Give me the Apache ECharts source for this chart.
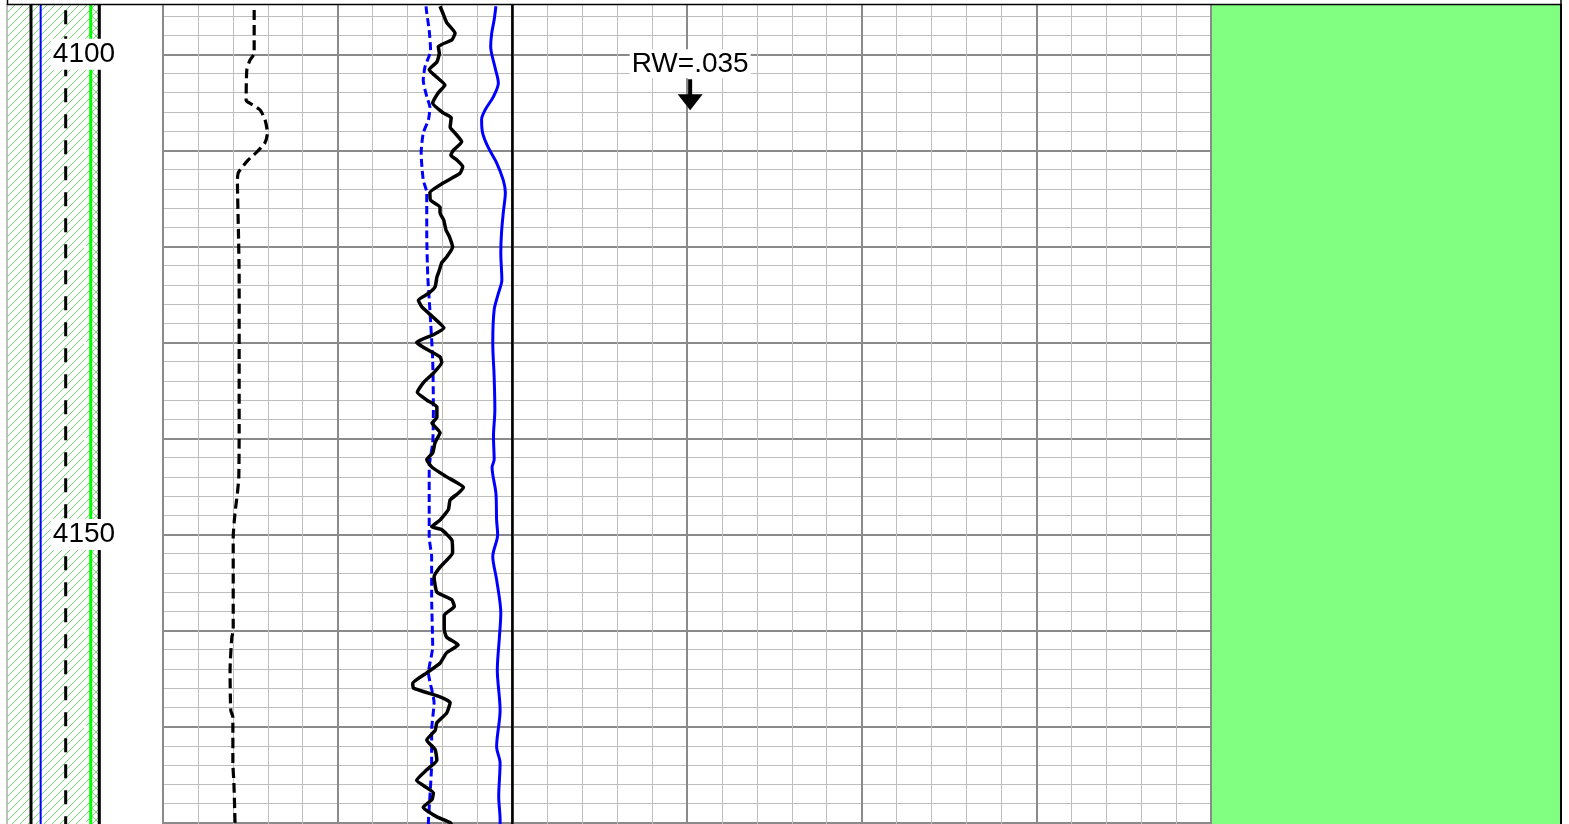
<!DOCTYPE html>
<html><head><meta charset="utf-8">
<script src="https://cdn.jsdelivr.net/npm/echarts@6/dist/echarts.min.js"></script>
<style>html,body{margin:0;padding:0;background:#fff;overflow:hidden;width:1569px;height:824px}#c{position:absolute;left:0;top:-60px;width:1569px;height:1000px}</style>
</head><body><div id="c"></div>
<script>
// ---------------- DATA ----------------
// Black dashed curve (track 1)
const depthA = [4095.4, 4099.9, 4100.6, 4101.6, 4104.8, 4105.1, 4105.8, 4106.8, 4108.2, 4109.2, 4110.2, 4111.0, 4112.3, 4113.1, 4118.6, 4123.2, 4131.8, 4138.8, 4144.0, 4145.7, 4147.8, 4150.3, 4160.0, 4160.7, 4164.1, 4168.3, 4169.0, 4173.8, 4175.9, 4179.7, 4181.0];
const curveA = [26.1, 26.1, 24.9, 24.0, 23.8, 24.9, 27.8, 29.2, 29.9, 29.2, 26.8, 24.4, 21.6, 21.3, 21.6, 21.8, 21.8, 21.8, 21.7, 21.3, 20.6, 20.1, 20.1, 19.7, 19.2, 19.4, 20.0, 20.0, 20.3, 20.6, 20.7];
// Blue dashed curve
const depthB = [4095.0, 4095.7, 4097.5, 4099.6, 4101.3, 4102.7, 4104.4, 4105.5, 4106.8, 4108.2, 4110.3, 4113.1, 4114.4, 4118.6, 4123.2, 4126.6, 4131.8, 4137.0, 4140.5, 4143.0, 4147.4, 4150.3, 4152.3, 4156.5, 4161.7, 4164.4, 4167.5, 4170.4, 4173.8, 4177.3, 4179.7, 4181.0];
const curveB = [75.3, 75.5, 76.2, 76.6, 75.0, 74.5, 75.5, 76.4, 76.0, 74.5, 73.9, 74.5, 75.5, 75.5, 75.8, 76.4, 77.2, 77.4, 77.2, 76.2, 76.2, 76.2, 76.9, 76.9, 77.2, 76.0, 77.6, 76.9, 76.9, 76.4, 76.0, 75.9];
// Black solid curve
const depthC = [4095.0, 4095.7, 4096.7, 4097.8, 4098.5, 4099.2, 4099.9, 4100.8, 4101.6, 4102.4, 4103.2, 4104.0, 4105.1, 4106.1, 4106.6, 4107.6, 4108.2, 4109.1, 4110.0, 4110.5, 4111.0, 4111.7, 4112.4, 4113.4, 4114.4, 4115.2, 4115.9, 4116.5, 4117.3, 4118.3, 4119.0, 4120.1, 4121.1, 4121.7, 4122.5, 4123.2, 4124.2, 4124.9, 4125.6, 4126.3, 4127.4, 4128.5, 4129.2, 4130.0, 4130.5, 4131.5, 4132.1, 4133.2, 4134.2, 4135.2, 4136.0, 4136.7, 4137.8, 4138.4, 4139.4, 4140.4, 4141.5, 4142.2, 4143.0, 4144.0, 4145.1, 4145.7, 4146.4, 4147.4, 4148.5, 4149.2, 4149.5, 4150.6, 4151.9, 4153.4, 4154.4, 4156.0, 4156.8, 4157.5, 4158.4, 4159.9, 4160.7, 4161.5, 4162.3, 4163.4, 4164.4, 4165.5, 4166.0, 4166.9, 4167.5, 4168.6, 4169.6, 4170.4, 4171.4, 4172.4, 4173.5, 4174.5, 4175.6, 4176.9, 4177.6, 4178.4, 4179.4, 4180.0, 4181.0];
const curveC = [79.3, 80.1, 81.2, 83.6, 82.7, 78.8, 79.1, 78.4, 76.2, 78.4, 80.7, 78.8, 77.2, 80.2, 82.5, 82.2, 83.6, 85.5, 83.1, 82.4, 84.1, 85.8, 85.0, 80.2, 76.4, 76.6, 79.3, 79.3, 80.4, 81.0, 82.0, 82.9, 81.2, 79.8, 79.1, 78.4, 77.9, 76.0, 73.1, 74.1, 77.4, 80.4, 77.4, 72.6, 74.5, 79.3, 79.8, 77.4, 74.5, 72.8, 75.5, 78.4, 78.4, 77.0, 79.3, 77.9, 77.2, 75.5, 77.0, 81.2, 86.0, 84.5, 82.2, 81.7, 79.3, 76.9, 79.8, 82.7, 82.9, 79.3, 77.6, 78.4, 82.7, 83.4, 80.5, 80.5, 81.2, 84.5, 81.2, 79.3, 75.5, 71.5, 71.7, 79.3, 82.2, 81.2, 78.4, 77.9, 75.5, 77.9, 78.4, 75.5, 72.6, 77.4, 77.0, 74.5, 78.4, 82.2, 83.6];
// Blue solid curve
const depthD = [4095.0, 4096.4, 4097.8, 4099.2, 4101.3, 4103.0, 4104.4, 4105.8, 4106.8, 4108.2, 4109.7, 4111.3, 4113.1, 4114.4, 4116.5, 4118.6, 4120.7, 4123.5, 4124.9, 4126.6, 4130.1, 4133.6, 4137.0, 4139.8, 4142.2, 4143.0, 4145.7, 4148.5, 4150.0, 4152.3, 4154.7, 4158.2, 4160.7, 4164.1, 4168.3, 4172.1, 4173.8, 4177.3, 4179.7, 4181.0];
const curveD = [95.3, 94.8, 94.1, 93.8, 95.0, 96.0, 94.6, 92.2, 91.2, 91.5, 93.1, 95.5, 97.4, 98.0, 97.4, 96.9, 96.7, 97.0, 96.0, 94.8, 94.4, 94.8, 95.0, 94.6, 94.8, 94.2, 95.3, 95.5, 95.8, 94.4, 95.5, 96.7, 96.3, 95.7, 96.5, 95.5, 96.5, 96.1, 96.5, 96.5];
// Constant reference curves in the depth track (values on a 0-100 track scale)
const depthTrackBlack1 = 25.8;
const depthTrackBlue = 36.2;
const depthTrackDashed = 63.1;
const depthTrackGreen = 90.0;
const depthTrackBlack2 = 99.2;
// Track divider value and annotation
const trackDivider = 100;
const rwPoint = [150.9, 4104.2];
const rwLabel = 'RW=.035';
// Depth range / ticks
const DEPTH_MIN = 4090, DEPTH_MAX = 4190, DEPTH_STEP = 10, DEPTH_LABEL_EVERY = 50;

// ---------------- LAYOUT ----------------
const OFFSET = 60;             // the chart container starts 60px above the page
const PX_PER_FT = 9.604;
const Y_4100 = 54.3 + OFFSET;
const gridTop = Y_4100 - (4100 - DEPTH_MIN) * PX_PER_FT;
const gridHeight = (DEPTH_MAX - DEPTH_MIN) * PX_PER_FT;
const FONT = '"Liberation Sans", Arial, sans-serif';

function zip(d, v) { const n = Math.min(d.length, v.length); const out = []; for (let i = 0; i < n; i++) out.push([v[i], d[i]]); return out; }
function vline(v) { return [[v, DEPTH_MIN], [v, DEPTH_MAX]]; }

function hatch(cross) {
  const c = document.createElement('canvas'); c.width = 8; c.height = 8;
  const g = c.getContext('2d');
  g.strokeStyle = '#74de74'; g.lineWidth = 1;
  g.beginPath();
  g.moveTo(0, 8); g.lineTo(8, 0);
  g.moveTo(-1, 1); g.lineTo(1, -1);
  g.moveTo(7, 9); g.lineTo(9, 7);
  if (cross) {
    g.moveTo(0, 0); g.lineTo(8, 8);
    g.moveTo(-1, 7); g.lineTo(1, 9);
    g.moveTo(7, -1); g.lineTo(9, 1);
  }
  g.stroke();
  return { image: c, repeat: 'repeat' };
}

const hiddenAxis = { axisLine: { show: false }, axisTick: { show: false }, axisLabel: { show: false }, splitLine: { show: false } };

const chart = echarts.init(document.getElementById('c'), null, { renderer: 'canvas' });
const option = {
  animation: false,
  backgroundColor: '#ffffff',
  grid: [
    { left: 7, width: 93, top: gridTop, height: gridHeight, outerBoundsMode: 'none', show: true, borderColor: '#808080', borderWidth: 1 },
    { left: 163, width: 1048, top: gridTop, height: gridHeight, outerBoundsMode: 'none', show: true, borderColor: '#888888', borderWidth: 1.5 },
    { left: 1211, width: 350, top: gridTop, height: gridHeight, outerBoundsMode: 'none', show: true, backgroundColor: '#80ff80', borderColor: '#000000', borderWidth: 2 }
  ],
  xAxis: [
    Object.assign({ type: 'value', gridIndex: 0, min: 0, max: 100 }, hiddenAxis),
    { type: 'value', gridIndex: 1, min: 0, max: 300, interval: 50,
      axisLine: { show: false }, axisTick: { show: false }, axisLabel: { show: false },
      splitLine: { show: true, lineStyle: { color: '#8a8a8a', width: 2 } },
      minorTick: { show: false, splitNumber: 5 },
      minorSplitLine: { show: true, lineStyle: { color: '#bebebe', width: 1 } } },
    Object.assign({ type: 'value', gridIndex: 2, min: 0, max: 1 }, hiddenAxis)
  ],
  yAxis: [
    { type: 'value', gridIndex: 0, min: DEPTH_MIN, max: DEPTH_MAX, interval: DEPTH_STEP, inverse: true, z: 4,
      axisLine: { show: false }, axisTick: { show: false }, splitLine: { show: false },
      axisLabel: { show: true, inside: true, margin: 77, align: 'center',
        fontFamily: FONT, fontSize: 28, color: '#000', backgroundColor: '#ffffff', padding: [2, 2, 1, 2],
        formatter: v => (v % DEPTH_LABEL_EVERY === 0 ? String(v) : '') } },
    { type: 'value', gridIndex: 1, min: DEPTH_MIN, max: DEPTH_MAX, interval: DEPTH_STEP, inverse: true,
      axisLine: { show: false }, axisTick: { show: false }, axisLabel: { show: false },
      splitLine: { show: true, lineStyle: { color: '#8a8a8a', width: 2 } },
      minorTick: { show: false, splitNumber: 5 },
      minorSplitLine: { show: true, lineStyle: { color: '#bebebe', width: 1 } } },
    Object.assign({ type: 'value', gridIndex: 2, min: DEPTH_MIN, max: DEPTH_MAX, inverse: true }, hiddenAxis)
  ],
  series: [
    // depth track hatch (under the reference lines)
    { type: 'line', name: 'hatch', xAxisIndex: 0, yAxisIndex: 0, z: 1, silent: true, symbol: 'none',
      data: [[0, DEPTH_MIN]], lineStyle: { width: 0 },
      markArea: { silent: true, z: 1, data: [
        [{ xAxis: 0, yAxis: DEPTH_MIN, itemStyle: { color: hatch(false) } }, { xAxis: depthTrackBlack2, yAxis: DEPTH_MAX }],
        [{ xAxis: depthTrackGreen, yAxis: DEPTH_MIN, itemStyle: { color: hatch(true) } }, { xAxis: depthTrackBlack2, yAxis: DEPTH_MAX }]
      ] } },
    { type: 'line', name: 'ref1', xAxisIndex: 0, yAxisIndex: 0, z: 3, symbol: 'none', silent: true, data: vline(depthTrackBlack1), lineStyle: { color: '#000', width: 3 } },
    { type: 'line', name: 'ref2', xAxisIndex: 0, yAxisIndex: 0, z: 3, symbol: 'none', silent: true, data: vline(depthTrackBlue), lineStyle: { color: '#0000ff', width: 2 } },
    { type: 'line', name: 'ref3', xAxisIndex: 0, yAxisIndex: 0, z: 3, symbol: 'none', silent: true, data: vline(depthTrackDashed), lineStyle: { color: '#000', width: 3, type: [14, 12] } },
    { type: 'line', name: 'ref4', xAxisIndex: 0, yAxisIndex: 0, z: 3, symbol: 'none', silent: true, data: vline(depthTrackGreen), lineStyle: { color: '#00ff00', width: 3 } },
    { type: 'line', name: 'ref5', xAxisIndex: 0, yAxisIndex: 0, z: 3, symbol: 'none', silent: true, data: vline(depthTrackBlack2), lineStyle: { color: '#000', width: 3 } },
    // main track curves
    { type: 'line', name: 'divider', xAxisIndex: 1, yAxisIndex: 1, z: 3, symbol: 'none', silent: true, data: vline(trackDivider), lineStyle: { color: '#000', width: 2.5 } },
    { type: 'line', name: 'A', xAxisIndex: 1, yAxisIndex: 1, z: 4, symbol: 'none', smooth: 0.2, data: zip(depthA, curveA), lineStyle: { color: '#000', width: 3.2, type: [10, 5] } },
    { type: 'line', name: 'B', xAxisIndex: 1, yAxisIndex: 1, z: 4, symbol: 'none', smooth: 0.2, data: zip(depthB, curveB), lineStyle: { color: '#0000ff', width: 3, type: [8, 4] } },
    { type: 'line', name: 'C', xAxisIndex: 1, yAxisIndex: 1, z: 5, symbol: 'none', smooth: 0.15, data: zip(depthC, curveC), lineStyle: { color: '#000', width: 3.5 } },
    { type: 'line', name: 'D', xAxisIndex: 1, yAxisIndex: 1, z: 4, symbol: 'none', smooth: 0.3, data: zip(depthD, curveD), lineStyle: { color: '#0000ff', width: 3 } },
    { type: 'scatter', name: 'RW', xAxisIndex: 1, yAxisIndex: 1, z: 6,
      symbol: 'path://M10.5,0 L14.5,0 L14.5,15 L25,15 L12.5,31 L0,15 L10.5,15 Z',
      symbolSize: [25, 31], itemStyle: { color: '#000', opacity: 1 },
      label: { show: true, position: 'top', distance: 1, formatter: rwLabel, fontFamily: FONT, fontSize: 28, color: '#000', opacity: 1,
        backgroundColor: '#ffffff', padding: [1, 2, 0, 2] },
      data: [rwPoint] }
  ],
  graphic: [
    { type: 'rect', z: 100, shape: { x: 0, y: 0, width: 1569, height: 4 + OFFSET }, style: { fill: '#ffffff' } },
    { type: 'line', z: 101, shape: { x1: 7, y1: 4.5 + OFFSET, x2: 1561.5, y2: 4.5 + OFFSET }, style: { stroke: '#000', lineWidth: 1.5 } },
    { type: 'line', z: 101, shape: { x1: 7.5, y1: OFFSET, x2: 7.5, y2: 5 + OFFSET }, style: { stroke: '#000', lineWidth: 1.5 } },
    { type: 'line', z: 101, shape: { x1: 1561, y1: OFFSET, x2: 1561, y2: 5 + OFFSET }, style: { stroke: '#000', lineWidth: 1.5 } }
  ]
};
chart.setOption(option);
</script>
</body></html>
